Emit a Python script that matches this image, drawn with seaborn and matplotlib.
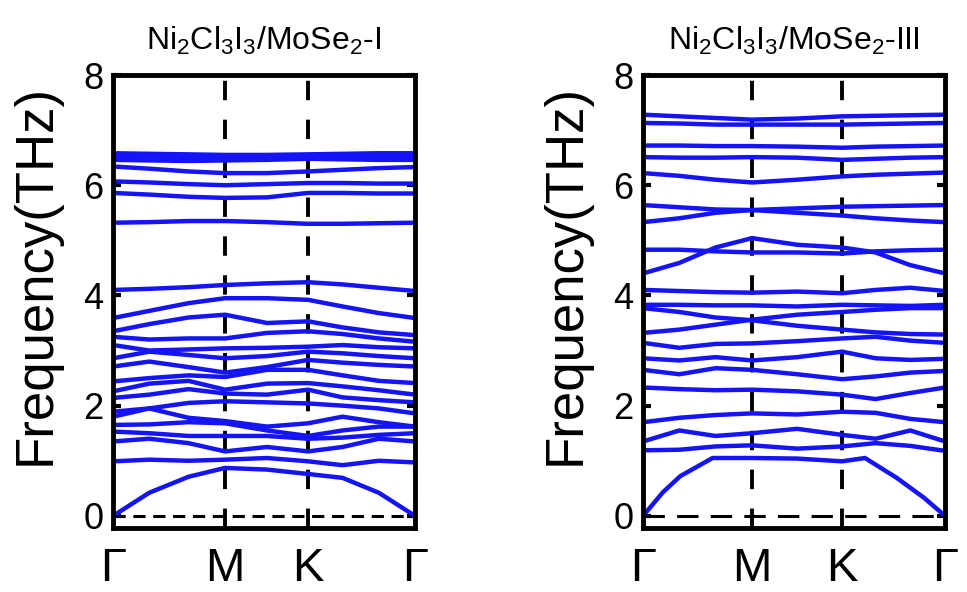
import matplotlib
matplotlib.use("Agg")
import numpy as np
import pandas as pd
import matplotlib.pyplot as plt
import seaborn as sns

# k-path positions (fraction of path) and labels
k_labels = ["Γ", "M", "K", "Γ"]
k_ticks_1 = [0.0, 0.371, 0.646, 1.0]
k_ticks_3 = [0.0, 0.361, 0.659, 1.0]

k_grid_1 = [0.0, 0.12, 0.25, 0.371, 0.51, 0.646, 0.76, 0.88, 1.0]
k_grid_3 = [0.0, 0.12, 0.24, 0.361, 0.51, 0.659, 0.77, 0.885, 1.0]

# Ni2Cl3I3/MoSe2-I bands (THz) read at k_grid_1
bands_1 = [
    [6.58, 6.57, 6.56, 6.55, 6.55, 6.56, 6.57, 6.58, 6.58],
    [6.52, 6.52, 6.51, 6.50, 6.50, 6.52, 6.52, 6.52, 6.52],
    [6.46, 6.45, 6.44, 6.45, 6.46, 6.48, 6.47, 6.46, 6.46],
    [6.34, 6.30, 6.25, 6.22, 6.22, 6.25, 6.28, 6.31, 6.33],
    [6.07, 6.05, 6.02, 6.00, 6.02, 6.04, 6.04, 6.03, 6.03],
    [5.86, 5.83, 5.79, 5.77, 5.78, 5.86, 5.86, 5.85, 5.85],
    [5.32, 5.33, 5.35, 5.35, 5.33, 5.30, 5.30, 5.31, 5.32],
    [4.10, 4.12, 4.15, 4.19, 4.22, 4.24, 4.20, 4.14, 4.08],
    [3.59, 3.72, 3.86, 3.95, 3.95, 3.92, 3.80, 3.68, 3.59],
    [3.35, 3.48, 3.60, 3.65, 3.50, 3.53, 3.42, 3.33, 3.28],
    [3.25, 3.20, 3.22, 3.22, 3.32, 3.35, 3.30, 3.22, 3.16],
    [3.10, 3.00, 3.02, 3.04, 3.05, 3.07, 3.10, 3.06, 3.04],
    [2.86, 2.98, 2.92, 2.86, 2.90, 2.98, 2.95, 2.90, 2.86],
    [2.71, 2.80, 2.70, 2.60, 2.70, 2.83, 2.78, 2.74, 2.71],
    [2.44, 2.50, 2.55, 2.52, 2.65, 2.65, 2.55, 2.45, 2.41],
    [2.26, 2.40, 2.45, 2.29, 2.40, 2.41, 2.35, 2.28, 2.20],
    [2.14, 2.20, 2.30, 2.22, 2.20, 2.29, 2.15, 2.10, 2.06],
    [1.89, 1.95, 2.05, 2.08, 2.06, 2.04, 2.00, 1.95, 1.86],
    [1.80, 1.95, 1.78, 1.72, 1.62, 1.68, 1.80, 1.70, 1.62],
    [1.65, 1.66, 1.70, 1.68, 1.55, 1.45, 1.55, 1.62, 1.62],
    [1.53, 1.50, 1.45, 1.45, 1.45, 1.40, 1.42, 1.47, 1.50],
    [1.35, 1.40, 1.32, 1.17, 1.25, 1.17, 1.25, 1.40, 1.35],
    [0.99, 1.02, 1.00, 1.02, 1.05, 0.99, 0.92, 1.00, 0.97],
    [0.00, 0.42, 0.71, 0.87, 0.84, 0.76, 0.69, 0.42, 0.00],
]

# Ni2Cl3I3/MoSe2-III bands (THz) read at k_grid_3
bands_3 = [
    [7.28, 7.25, 7.22, 7.19, 7.21, 7.25, 7.26, 7.27, 7.28],
    [7.13, 7.12, 7.10, 7.10, 7.10, 7.10, 7.11, 7.12, 7.13],
    [6.72, 6.72, 6.71, 6.71, 6.70, 6.68, 6.70, 6.71, 6.72],
    [6.51, 6.50, 6.50, 6.51, 6.50, 6.46, 6.48, 6.50, 6.51],
    [6.22, 6.17, 6.10, 6.05, 6.10, 6.16, 6.19, 6.21, 6.23],
    [5.64, 5.60, 5.56, 5.55, 5.58, 5.61, 5.62, 5.63, 5.64],
    [5.33, 5.40, 5.50, 5.55, 5.50, 5.45, 5.40, 5.36, 5.33],
    [4.83, 4.83, 4.80, 4.78, 4.78, 4.76, 4.80, 4.82, 4.83],
    [4.40, 4.59, 4.87, 5.04, 4.92, 4.87, 4.78, 4.55, 4.40],
    [4.10, 4.08, 4.06, 4.05, 4.07, 4.04, 4.10, 4.14, 4.08],
    [3.83, 3.83, 3.82, 3.82, 3.80, 3.83, 3.82, 3.81, 3.83],
    [3.77, 3.70, 3.60, 3.55, 3.45, 3.38, 3.33, 3.30, 3.29],
    [3.32, 3.38, 3.47, 3.56, 3.65, 3.70, 3.74, 3.77, 3.77],
    [3.14, 3.05, 3.12, 3.13, 3.17, 3.22, 3.25, 3.18, 3.14],
    [2.86, 2.82, 2.88, 2.82, 2.88, 2.98, 2.86, 2.83, 2.85],
    [2.65, 2.57, 2.68, 2.65, 2.57, 2.48, 2.53, 2.60, 2.63],
    [2.33, 2.30, 2.28, 2.29, 2.26, 2.20, 2.12, 2.23, 2.33],
    [1.70, 1.78, 1.83, 1.86, 1.84, 1.89, 1.87, 1.76, 1.70],
    [1.35, 1.55, 1.45, 1.50, 1.58, 1.47, 1.40, 1.55, 1.35],
    [1.19, 1.20, 1.26, 1.28, 1.22, 1.26, 1.32, 1.27, 1.18],
]
# acoustic branch of -III on its own k points
k_acoustic_3 = [0.0, 0.066, 0.123, 0.23, 0.361, 0.51, 0.659, 0.735, 0.84, 0.93, 1.0]
acoustic_3 = [0.0, 0.43, 0.72, 1.05, 1.05, 1.04, 0.99, 1.05, 0.69, 0.33, 0.0]

titles = [r"Ni$_\mathregular{2}$Cl$_\mathregular{3}$I$_\mathregular{3}$/MoSe$_\mathregular{2}$-I",
          r"Ni$_\mathregular{2}$Cl$_\mathregular{3}$I$_\mathregular{3}$/MoSe$_\mathregular{2}$-III"]


def to_long(kgrid, bands, start=0):
    rows = []
    for b, vals in enumerate(bands):
        for k, f in zip(kgrid, vals):
            rows.append((start + b, k, f))
    return pd.DataFrame(rows, columns=["band", "k", "freq"])


df1 = to_long(k_grid_1, bands_1)
df3 = pd.concat([to_long(k_grid_3, bands_3),
                 to_long(k_acoustic_3, [acoustic_3], start=len(bands_3))])

sns.set_theme(style="ticks")
plt.rcParams["font.family"] = ["Liberation Sans", "DejaVu Sans"]
plt.rcParams["mathtext.fontset"] = "custom"
plt.rcParams["mathtext.rm"] = "Liberation Sans"
for key in ["text.color", "axes.labelcolor", "xtick.color", "ytick.color"]:
    plt.rcParams[key] = "black"

fig = plt.figure(figsize=(9.67, 5.92), dpi=100)
ax1 = fig.add_axes([0.1169, 0.1081, 0.3123, 0.7652])
ax3 = fig.add_axes([0.6650, 0.1081, 0.3123, 0.7652])

panels = [(ax1, df1, k_ticks_1, titles[0], (4, 2.5)),
          (ax3, df3, k_ticks_3, titles[1], (7, 4))]

for ax, df, kt, title, zdash in panels:
    sns.lineplot(data=df, x="k", y="freq", units="band", estimator=None,
                 color="#1414f5", lw=3.2, ax=ax, legend=False, sort=False)
    for k in kt[1:-1]:
        ax.axvline(k, color="black", lw=2.8, ls=(0, (5, 5)), zorder=0)
    ax.axhline(0, color="black", lw=2.2, ls=(0, zdash), zorder=0)
    ax.set_xlim(0, 1)
    ax.set_ylim(-0.22, 8)
    ax.set_xticks(kt)
    ax.set_xticklabels(k_labels, fontsize=34)
    ax.set_yticks([0, 2, 4, 6, 8])
    ax.set_yticklabels(["0", "2", "4", "6", "8"], fontsize=26)
    ax.tick_params(axis="y", direction="in", length=6, width=3, right=True, pad=7)
    ax.tick_params(axis="x", length=0, pad=14)
    ax.set_xlabel("")
    ax.set_ylabel("Frequency(THz)", fontsize=38)
    ax.yaxis.set_label_coords(-0.175, 0.56)
    ax.set_title(title, fontsize=23, pad=18)
    for s in ax.spines.values():
        s.set_linewidth(3.5)
        s.set_color("black")

fig.savefig("out.png", dpi=100)
